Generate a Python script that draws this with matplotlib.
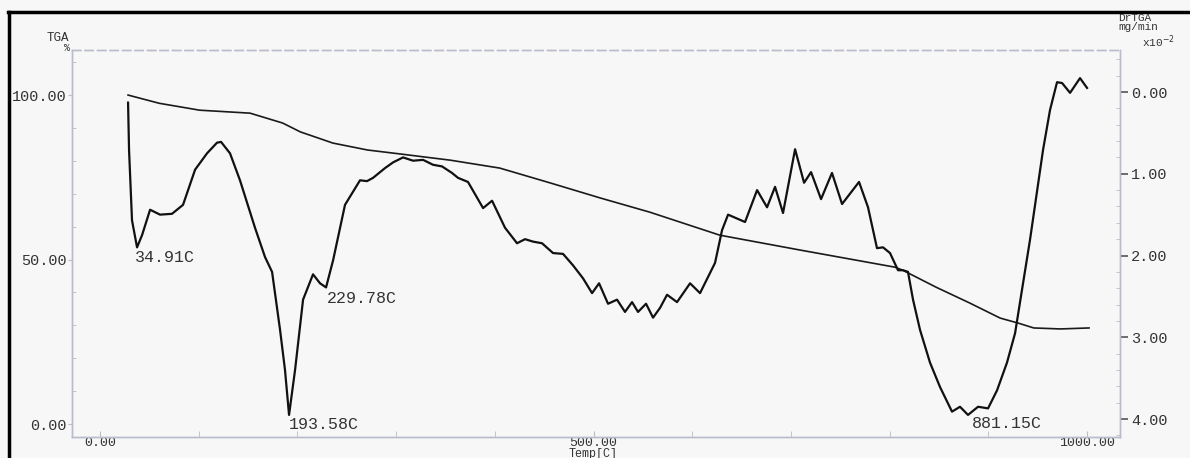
import matplotlib.pyplot as plt
from matplotlib.lines import Line2D
from matplotlib.ticker import MultipleLocator, FixedLocator

# TGA curve (left axis, %)
tga_temp = [28.4, 60, 101, 152, 185, 203, 236, 271, 304, 355, 405, 456, 507,
            557, 628, 709, 805, 813, 847, 881, 912, 930, 946, 973, 1002]
tga_val = [100.0, 97.5, 95.4, 94.5, 91.5, 88.8, 85.4, 83.3, 82.1, 80.2, 77.8,
           73.3, 68.7, 64.4, 57.4, 52.9, 47.7, 46.8, 41.6, 36.8, 32.2, 30.7,
           29.2, 28.9, 29.2]

# DrTGA curve (right axis, mg/min x10^-2)
dr_temp = [28.4, 29.4, 32.4, 37.5, 42.6, 50.7, 60.8, 72.9, 84.1, 96.3, 108.4,
           118.5, 122.6, 131.7, 141.8, 157.0, 167.2, 174.3, 182.4, 187.4, 191.5,
           197.6, 205.7, 215.8, 222.9, 229.0, 236.1, 248.2, 263.4, 270.5, 276.6,
           288.8, 297.0, 307.0, 317.1, 327.3, 337.4, 346.5, 356.6, 362.7, 372.8,
           388.1, 397.2, 410.3, 422.5, 430.6, 438.7, 447.8, 459.0, 469.1, 479.2,
           489.4, 498.5, 505.6, 514.7, 523.8, 531.9, 539.0, 545.1, 553.2, 560.3,
           567.4, 574.5, 584.6, 597.8, 607.9, 623.1, 630.2, 636.3, 653.5, 665.7,
           675.8, 683.9, 692.0, 704.2, 713.3, 720.4, 730.5, 741.6, 751.8, 769.0,
           778.1, 787.2, 793.3, 800.4, 808.5, 813.6, 818.6, 823.7, 830.8, 840.9,
           851.1, 863.2, 871.3, 879.4, 889.6, 899.7, 908.8, 918.9, 927.1, 934.1,
           942.2, 955.4, 962.5, 969.6, 974.7, 982.8, 992.9, 1000.0]
dr_val = [-0.13, -0.71, -1.57, -1.90, -1.75, -1.44, -1.50, -1.49, -1.38, -0.95,
          -0.75, -0.62, -0.61, -0.75, -1.08, -1.66, -2.02, -2.20, -2.91, -3.40,
          -3.95, -3.40, -2.54, -2.23, -2.34, -2.39, -2.06, -1.38, -1.08, -1.09,
          -1.05, -0.93, -0.86, -0.80, -0.84, -0.83, -0.89, -0.91, -0.99, -1.05,
          -1.10, -1.42, -1.33, -1.66, -1.85, -1.80, -1.83, -1.85, -1.97, -1.98,
          -2.12, -2.28, -2.46, -2.34, -2.59, -2.54, -2.69, -2.57, -2.69, -2.59,
          -2.76, -2.64, -2.48, -2.57, -2.34, -2.46, -2.09, -1.69, -1.50, -1.59,
          -1.20, -1.41, -1.16, -1.48, -0.70, -1.11, -0.98, -1.31, -0.99, -1.37,
          -1.10, -1.41, -1.91, -1.90, -1.97, -2.18, -2.18, -2.20, -2.54, -2.91,
          -3.31, -3.61, -3.91, -3.85, -3.95, -3.85, -3.87, -3.65, -3.31, -2.95,
          -2.42, -1.81, -0.71, -0.22, 0.12, 0.11, -0.01, 0.17, 0.05]

peak_labels = ["34.91C", "193.58C", "229.78C", "881.15C"]
peak_pos = [(35.5, 50.5), (191.5, 0.0), (230.0, 38.3), (883.5, 0.3)]

mono = "Liberation Mono"
bg = "#f7f7f7"
axcol = "#b8bccb"
txt = "#333333"

fig = plt.figure(figsize=(11.9, 4.58), dpi=100, facecolor=bg)
ax = fig.add_axes([72 / 1190, 1 - 437 / 458, (1120 - 72) / 1190, (437 - 50) / 458])
ax.set_facecolor(bg)
ax2 = ax.twinx()

ax.plot(tga_temp, tga_val, color="#1a1a1a", lw=1.2, solid_joinstyle="round")
ax2.plot(dr_temp, dr_val, color="#111111", lw=1.6, solid_joinstyle="round")

ax.set_xlim(-28.4, 1033.4)
ax.set_ylim(-3.95, 113.7)
ax2.set_ylim(-4.22, 0.514)

# spines
for a in (ax, ax2):
    for s in a.spines.values():
        s.set_color(axcol)
        s.set_linewidth(1.0)
ax.spines["top"].set_linestyle((0, (6, 3)))
ax2.spines["top"].set_linestyle((0, (6, 3)))

# x axis
ax.xaxis.set_major_locator(FixedLocator([0, 500, 1000]))
ax.xaxis.set_minor_locator(MultipleLocator(100))
ax.set_xticklabels(["0.00", "500.00", "1000.00"], fontfamily=mono, fontsize=9.5,
                   color=txt)
ax.tick_params(axis="x", which="both", direction="in", length=4, color=axcol, pad=0)
fig.text(593 / 1190, 1 - 448 / 458, "Temp[C]", fontfamily=mono, fontsize=8.5,
         color=txt, ha="center", va="top")

# left axis
ax.yaxis.set_major_locator(FixedLocator([0, 50, 100]))
ax.yaxis.set_minor_locator(MultipleLocator(10))
ax.set_yticklabels(["0.00", "50.00", "100.00"], fontfamily=mono, fontsize=11,
                   color=txt)
ax.tick_params(axis="y", which="major", direction="out", length=3, color=axcol, pad=1)
ax.tick_params(axis="y", which="minor", direction="in", length=3, color=axcol)

# right axis
ax2.yaxis.set_major_locator(FixedLocator([0, -1, -2, -3, -4]))
ax2.yaxis.set_minor_locator(MultipleLocator(0.2))
ax2.set_yticklabels(["0.00", "1.00", "2.00", "3.00", "4.00"], fontfamily=mono,
                    fontsize=11, color=txt)
ax2.tick_params(axis="y", which="major", direction="out", length=6, width=1.2,
                color="#555555", pad=2)
ax2.tick_params(axis="y", which="minor", direction="in", length=3, color=axcol)

# peak labels
for lab, (tx, ty) in zip(peak_labels, peak_pos):
    ax.text(tx, ty, lab, fontfamily=mono, fontsize=12, color=txt,
            ha="left", va="center")

# axis titles
fig.text(47 / 1190, 1 - 38 / 458, "TGA", fontfamily=mono, fontsize=9,
         color=txt, va="center")
fig.text(64 / 1190, 1 - 48 / 458, "%", fontfamily=mono, fontsize=7,
         color=txt, va="center")
fig.text(1118 / 1190, 1 - 18 / 458, "DrTGA", fontfamily=mono, fontsize=8,
         color=txt, va="center")
fig.text(1118 / 1190, 1 - 27 / 458, "mg/min", fontfamily=mono, fontsize=8,
         color=txt, va="center")
fig.text(1142 / 1190, 1 - 42 / 458, r"x10$^{-2}$", fontfamily=mono, fontsize=8,
         color=txt, va="center")

# scan frame
fig.add_artist(Line2D([8 / 1190, 1], [1 - 12 / 458, 1 - 12 / 458],
                      transform=fig.transFigure, color="black", lw=2.5))
fig.add_artist(Line2D([9 / 1190, 9 / 1190], [0, 1 - 12 / 458],
                      transform=fig.transFigure, color="black", lw=2.5))

fig.savefig("out.png", dpi=100, facecolor=bg)
